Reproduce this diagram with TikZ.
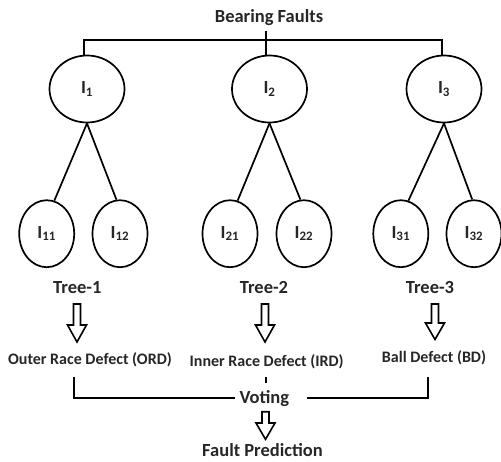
\documentclass[tikz,border=0pt]{standalone}
\usepackage{fontspec}
\setmainfont{Carlito}
\usetikzlibrary{shapes.geometric}
\begin{document}
\begin{tikzpicture}[x=1pt,y=-1pt,
  every node/.style={font=\fontsize{18.5}{20}\selectfont\bfseries, text=black!85},
  small/.style={font=\fontsize{16}{18}\selectfont\bfseries},
  pnode/.style={draw=black, ellipse, line width=1.7pt, inner sep=0pt, minimum width=75pt, minimum height=67pt},
  cnode/.style={draw=black, ellipse, line width=1.7pt, inner sep=0pt, minimum width=55pt, minimum height=67pt},
  wire/.style={draw=black, line width=1.7pt},
  lbl/.style={anchor=base, inner sep=0pt},
  harrow/.style={draw=black, line width=1.6pt, fill=white, line join=miter}
]
\useasboundingbox (0,0) rectangle (501,461);
\newcommand\hollowarrow[4]{% x, top, headstart, tip
  \draw[harrow] (#1-3.5,#2) -- (#1+3.5,#2) -- (#1+3.5,#3) -- (#1+9.5,#3) -- (#1,#4) -- (#1-9.5,#3) -- (#1-3.5,#3) -- cycle;}

\node[lbl] (bf) at (269,22.7) {Bearing Faults};
\node[pnode] (p1) at (87,89) {I\textsubscript{1}};
\node[pnode] (p2) at (269.5,89) {I\textsubscript{2}};
\node[pnode] (p3) at (444,89) {I\textsubscript{3}};

\coordinate (hb) at (265.7,40);
\coordinate (h1) at (84,40);
\coordinate (h3) at (441.7,40);
\draw[wire] (265.7,31) -- (hb);
\draw[wire, line cap=rect] (p1.north -| h1) -- (h1) -- (h3) -- (p3.north -| h3);
\draw[wire] (hb) -- (p2.north -| hb);

\node[cnode] (c11) at (46.7,233.7) {I\textsubscript{11}};
\node[cnode] (c12) at (120,233.7) {I\textsubscript{12}};
\node[cnode] (c21) at (230,233.7) {I\textsubscript{21}};
\node[cnode] (c22) at (304,233.7) {I\textsubscript{22}};
\node[cnode] (c31) at (400.8,233.7) {I\textsubscript{31}};
\node[cnode] (c32) at (474,233.7) {I\textsubscript{32}};

\draw[wire] (p1.south) -- (c11.77);
\draw[wire] (p1.south) -- (c12.96);
\draw[wire] (p2.south) -- (c21.77);
\draw[wire] (p2.south) -- (c22.96);
\draw[wire] (p3.south) -- (c31.77);
\draw[wire] (p3.south) -- (c32.93);

\node[lbl] (t1) at (77.3,293.3) {Tree-1};
\node[lbl] (t2) at (264,293.3) {Tree-2};
\node[lbl] (t3) at (430,293.3) {Tree-3};

\hollowarrow{77}{304}{325}{342}
\hollowarrow{265}{304}{325}{342}
\hollowarrow{435}{304}{323}{339.5}

\node[lbl, small] (ord) at (90,364) {Outer Race Defect (ORD)};
\node[lbl, small] (ird) at (266.7,366.7) {Inner Race Defect (IRD)};
\node[lbl, small] (bd) at (434,362) {Ball Defect (BD)};

\node[lbl] (vot) at (264.3,403.3) {Voting};
\coordinate (vl) at (74,397.7);
\coordinate (vr) at (428.3,397.7);
\draw[wire] (74,376.7) -- (vl) -- (235,397.7);
\draw[wire] (306.7,397.7) -- (vr) -- (428.3,376.7);
\draw[wire] (265.7,376.7) -- (265.7,383.3);

\hollowarrow{265.5}{411.7}{423}{439.3}
\node[lbl] (fp) at (262.5,456.5) {Fault Prediction};
\end{tikzpicture}
\end{document}
